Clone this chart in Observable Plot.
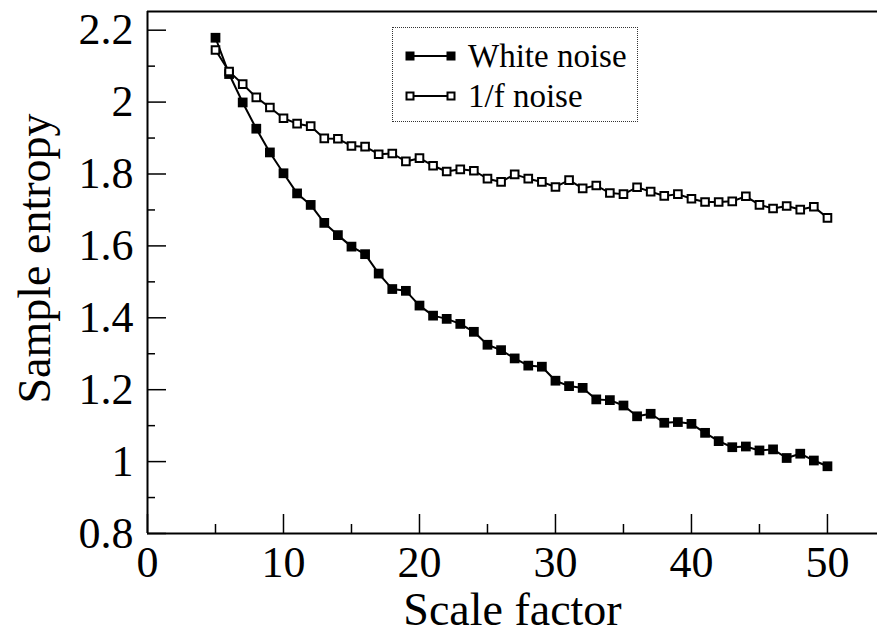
<!DOCTYPE html>
<html>
<head>
<meta charset="utf-8">
<script src="https://cdn.jsdelivr.net/npm/d3@7"></script>
<script src="https://cdn.jsdelivr.net/npm/@observablehq/plot@0.6"></script>
<style>
  html, body { margin: 0; padding: 0; background: #fff; }
  #wrap { position: relative; width: 877px; height: 634px; font-family: "Liberation Serif", "Times New Roman", serif; }
  #legend { position: absolute; left: 392px; top: 27px; width: 246px; height: 95px; border: 1px dotted #333; box-sizing: border-box; }
  #legend svg { position: absolute; left: 0; top: 0; }
</style>
</head>
<body>
<div id="wrap"><div id="legend"></div></div>
<script>
const scaleFactor = d3.range(5, 51);
const whiteNoise = [2.179, 2.078, 1.999, 1.926, 1.860, 1.802, 1.746, 1.714, 1.664, 1.630,
  1.598, 1.577, 1.523, 1.480, 1.475, 1.434, 1.406, 1.397, 1.383, 1.361,
  1.325, 1.310, 1.287, 1.267, 1.264, 1.225, 1.210, 1.205, 1.173, 1.171,
  1.156, 1.126, 1.133, 1.108, 1.110, 1.105, 1.080, 1.057, 1.040, 1.042,
  1.031, 1.034, 1.010, 1.022, 1.003, 0.987];
const pinkNoise = [2.145, 2.085, 2.050, 2.013, 1.985, 1.955, 1.940, 1.933, 1.899, 1.898,
  1.878, 1.876, 1.855, 1.857, 1.835, 1.844, 1.823, 1.807, 1.813, 1.809,
  1.787, 1.778, 1.799, 1.787, 1.778, 1.764, 1.783, 1.760, 1.768, 1.747,
  1.744, 1.763, 1.751, 1.739, 1.744, 1.731, 1.722, 1.722, 1.724, 1.738,
  1.714, 1.704, 1.711, 1.701, 1.709, 1.678];
const seriesNames = ["White noise", "1/f noise"];
const xMajor = [0, 10, 20, 30, 40, 50];
const xMinor = [5, 15, 25, 35, 45];
const yMajor = [0.8, 1.0, 1.2, 1.4, 1.6, 1.8, 2.0, 2.2];
const yTickLabels = ["0.8", "1", "1.2", "1.4", "1.6", "1.8", "2", "2.2"];
const yMinor = [0.9, 1.1, 1.3, 1.5, 1.7, 1.9, 2.1];
const xDomain = [0, 53.68];
const yDomain = [0.8, 2.252];
const xLabel = "Scale factor";
const yLabel = "Sample entropy";

const white = scaleFactor.map((x, i) => ({x, y: whiteNoise[i]}));
const pink = scaleFactor.map((x, i) => ({x, y: pinkNoise[i]}));

const W = 877, H = 634, mL = 147, mR = 0, mT = 11, mB = 101;
const frameW = W - mL - mR, frameH = H - mT - mB;
const font = "Liberation Serif";

const chart = Plot.plot({
  width: W, height: H,
  marginLeft: mL, marginRight: mR, marginTop: mT, marginBottom: mB,
  style: {fontFamily: font, background: "white", overflow: "visible"},
  x: {domain: xDomain, axis: null},
  y: {domain: yDomain, axis: null},
  marks: [
    Plot.axisX(xMajor, {tickSize: 0, tickPadding: 12, fontSize: 44, fill: "black", label: null, tickFormat: d => String(d)}),
    Plot.axisY(yMajor, {tickSize: 0, tickPadding: 14, fontSize: 44, fill: "black", label: null,
      tickFormat: d => yTickLabels[yMajor.indexOf(d)]}),
    // inward ticks
    Plot.ruleX(xMajor, {x: d => d, insetTop: frameH - 19, stroke: "black", strokeWidth: 1.5}),
    Plot.ruleX(xMinor, {x: d => d, insetTop: frameH - 9, stroke: "black", strokeWidth: 1.5}),
    Plot.ruleY(yMajor, {y: d => d, insetRight: frameW - 19, stroke: "black", strokeWidth: 1.5}),
    Plot.ruleY(yMinor, {y: d => d, insetRight: frameW - 8, stroke: "black", strokeWidth: 1.5}),
    // frame: left, bottom, top
    Plot.ruleX([xDomain[0]], {stroke: "black", strokeWidth: 2}),
    Plot.ruleY(yDomain, {stroke: "black", strokeWidth: 2}),
    // series
    Plot.line(white, {x: "x", y: "y", stroke: "black", strokeWidth: 2}),
    Plot.dot(white, {x: "x", y: "y", symbol: "square", r: 5.5, fill: "black", stroke: "none"}),
    Plot.line(pink, {x: "x", y: "y", stroke: "black", strokeWidth: 2}),
    Plot.dot(pink, {x: "x", y: "y", symbol: "square", r: 4.3, fill: "white", stroke: "black", strokeWidth: 2}),
    // axis labels
    Plot.text([xLabel], {frameAnchor: "bottom", textAnchor: "middle", text: d => d, dy: 91, fontSize: 46, fill: "black"}),
    Plot.text([yLabel], {frameAnchor: "left", textAnchor: "middle", text: d => d, dx: -112, dy: -14, rotate: -90, fontSize: 46, fill: "black"})
  ]
});
document.getElementById("wrap").prepend(chart);

// legend
const leg = d3.select("#legend").append("svg").attr("width", 246).attr("height", 95);
const rows = [
  {name: seriesNames[0], fill: "black", y: 28},
  {name: seriesNames[1], fill: "white", y: 68}
];
rows.forEach(r => {
  leg.append("line").attr("x1", 17).attr("x2", 58).attr("y1", r.y).attr("y2", r.y)
    .attr("stroke", "black").attr("stroke-width", 2);
  [17, 58].forEach(cx => {
    if (r.fill === "black") {
      leg.append("rect").attr("x", cx - 4.5).attr("y", r.y - 4.5).attr("width", 9).attr("height", 9).attr("fill", "black");
    } else {
      leg.append("rect").attr("x", cx - 3.5).attr("y", r.y - 3.5).attr("width", 7).attr("height", 7)
        .attr("fill", "white").attr("stroke", "black").attr("stroke-width", 2);
    }
  });
  leg.append("text").attr("x", 75).attr("y", r.y + 11).attr("font-size", 33)
    .attr("font-family", font).attr("fill", "black").text(r.name);
});
</script>
</body>
</html>
